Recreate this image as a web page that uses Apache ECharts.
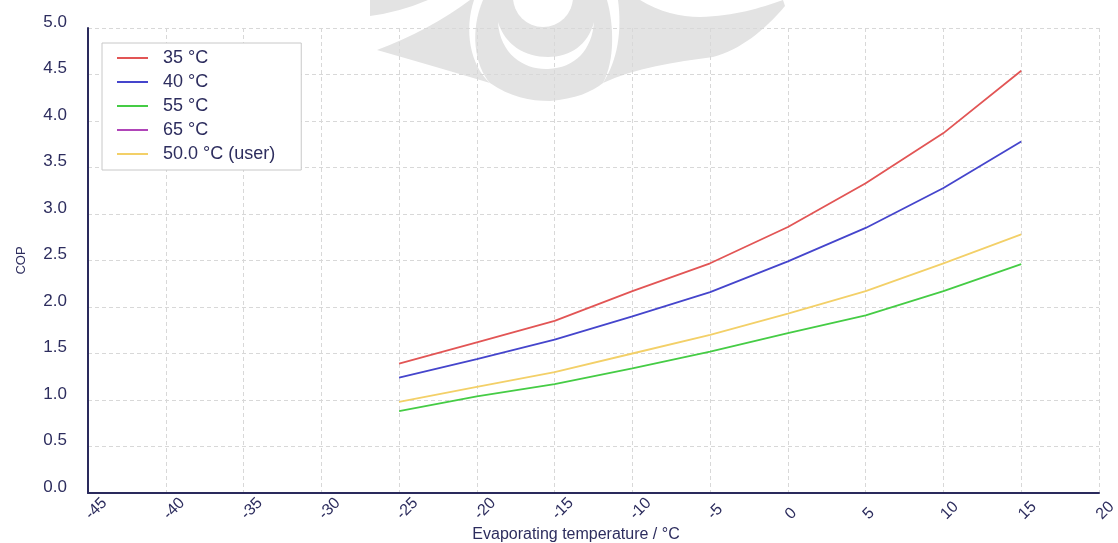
<!DOCTYPE html>
<html>
<head>
<meta charset="utf-8">
<title>COP vs evaporating temperature</title>
<script src="https://cdn.jsdelivr.net/npm/echarts@6/dist/echarts.min.js"></script>
<style>
  html, body { margin: 0; padding: 0; background: #ffffff; }
  #chart { width: 1118px; height: 543px; }
</style>
</head>
<body>
<div id="chart"></div>
<script>
// Evaporating temperatures (°C) at which COP is evaluated
const evapTemps = [-25, -20, -15, -10, -5, 0, 5, 10, 15];

// COP for each condensing temperature
const cop35 = [1.39, 1.62, 1.85, 2.17, 2.47, 2.86, 3.33, 3.87, 4.54];
const cop40 = [1.24, 1.44, 1.65, 1.90, 2.16, 2.49, 2.85, 3.28, 3.78];
const cop55 = [0.88, 1.04, 1.17, 1.34, 1.52, 1.72, 1.91, 2.17, 2.46];
const cop65 = [];
const copUser = [0.98, 1.14, 1.30, 1.50, 1.70, 1.93, 2.17, 2.47, 2.78];

const seriesNames = ['35 °C', '40 °C', '55 °C', '65 °C', '50.0 °C (user)'];
const seriesColors = ['#e25555', '#4545cc', '#45cc45', '#b045b8', '#f3d068'];
const seriesValues = [cop35, cop40, cop55, cop65, copUser];

const FONT = '"Liberation Sans", Arial, sans-serif';
const TEXT = '#2d2d5e';
const AXIS = '#2a2a5c';
const GRID = '#d8d8d8';
const MARK = '#e3e3e3';

// faint emblem outlines, registered as reusable shapes
const emblemPaths = {
  emblemArcL: 'M 370 0 L 428 0 Q 400 12 370 16 Z',
  emblemWingL: 'M 377 50 Q 430 30 470 0 L 474 0 C 464 30 470 65 490 83 Q 440 68 377 50 Z',
  emblemBowl: 'M 483 0 C 470 30 474 65 490 83 C 510 97 530 101 550 101 C 575 99 592 92 603 83 C 615 60 614 25 607 0 Z',
  emblemWingR: 'M 618 0 L 640 0 C 660 12 680 17 700 17 C 735 16 760 8 783 0 L 785 6 C 765 30 740 50 713 57 C 675 62 635 68 603 83 C 618 60 622 30 618 0 Z',
  emblemCrescent: 'M 498 22 C 500 55 525 70 548 69 C 575 68 592 50 594 22 C 588 45 570 57 548 57 C 525 57 505 45 498 22 Z'
};
Object.keys(emblemPaths).forEach(k => {
  echarts.graphic.registerShape(k, echarts.graphic.extendPath(emblemPaths[k], {}));
});

const pairs = vals => vals.map((v, i) => [evapTemps[i], v]);

const chart = echarts.init(document.getElementById('chart'), null, { renderer: 'canvas' });

chart.setOption({
  animation: false,
  backgroundColor: '#ffffff',
  textStyle: { fontFamily: FONT, color: TEXT },
  grid: { left: 88, right: 19, top: 28, bottom: 50, containLabel: false, outerBoundsMode: 'none' },
  graphic: [
    { type: 'emblemArcL', z: -10, style: { fill: MARK } },
    { type: 'emblemWingL', z: -10, style: { fill: MARK } },
    { type: 'emblemBowl', z: -10, style: { fill: MARK } },
    { type: 'emblemWingR', z: -10, style: { fill: MARK } },
    { type: 'emblemCrescent', z: -9, style: { fill: '#ffffff' } },
    { type: 'circle', z: -9, shape: { cx: 543, cy: -3, r: 30 }, style: { fill: '#ffffff' } }
  ],
  legend: {
    orient: 'vertical',
    left: 102,
    top: 43,
    padding: [6, 26, 7, 15],
    itemGap: 6,
    itemWidth: 31,
    itemHeight: 2,
    icon: 'rect',
    backgroundColor: '#ffffff',
    borderColor: '#c8c8c8',
    borderWidth: 1,
    selectedMode: false,
    data: seriesNames,
    textStyle: { fontFamily: FONT, fontSize: 18, color: TEXT, padding: [0, 0, 0, 10] }
  },
  xAxis: {
    type: 'value',
    min: -45,
    max: 20,
    interval: 5,
    name: 'Evaporating temperature / °C',
    nameLocation: 'middle',
    nameGap: 34,
    nameMoveOverlap: false,
    nameTextStyle: { fontFamily: FONT, fontSize: 16, color: TEXT, padding: [0, 35, 0, 0] },
    axisLine: { show: true, onZero: false, lineStyle: { color: AXIS, width: 2 } },
    axisTick: { show: false },
    axisLabel: {
      rotate: 45,
      margin: 24,
      align: 'left',
      verticalAlign: 'middle',
      fontFamily: FONT,
      fontSize: 16,
      color: TEXT,
      showMinLabel: true,
      showMaxLabel: true
    },
    splitLine: { show: true, lineStyle: { color: GRID, type: [4, 3], width: 1 } }
  },
  yAxis: {
    type: 'value',
    min: 0,
    max: 5,
    interval: 0.5,
    name: 'COP',
    nameLocation: 'middle',
    nameGap: 60,
    nameMoveOverlap: false,
    nameTextStyle: { fontFamily: FONT, fontSize: 13, color: TEXT },
    axisLine: { show: true, onZero: false, lineStyle: { color: AXIS, width: 2 } },
    axisTick: { show: false },
    axisLabel: {
      margin: 21,
      fontFamily: FONT,
      fontSize: 17,
      color: TEXT,
      verticalAlign: 'bottom',
      lineHeight: 12,
      formatter: v => v.toFixed(1)
    },
    splitLine: { show: true, lineStyle: { color: GRID, type: [4, 3], width: 1 } }
  },
  series: seriesNames.map((name, i) => ({
    name: name,
    type: 'line',
    data: pairs(seriesValues[i]),
    symbol: 'none',
    showSymbol: false,
    smooth: false,
    color: seriesColors[i],
    lineStyle: { color: seriesColors[i], width: 1.8 },
    emphasis: { disabled: true }
  }))
});
</script>
</body>
</html>
